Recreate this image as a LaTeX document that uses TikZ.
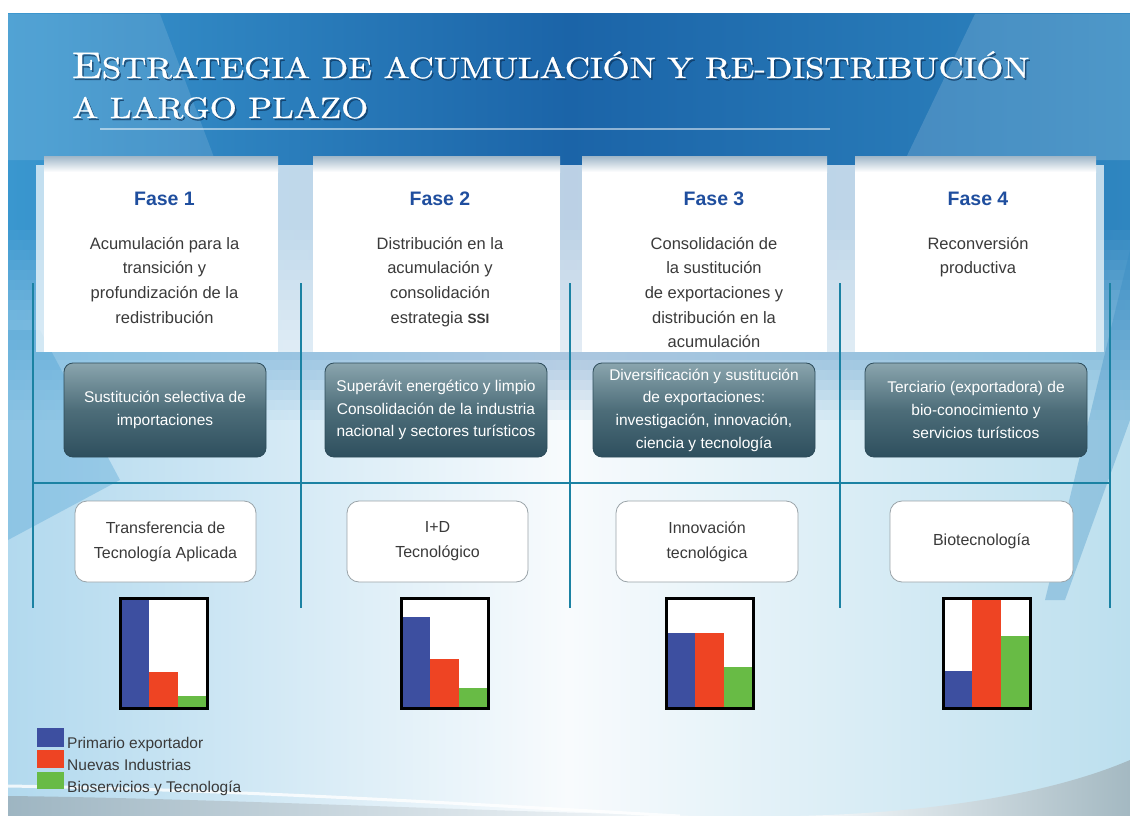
\documentclass[tikz,border=0pt]{standalone}
\usepackage{fontspec}
\usepackage{graphicx}
\newfontfamily\arialfont{Liberation Sans}
\newfontfamily\titlefont{lmroman10-regular.otf}[FakeBold=0.8]
\definecolor{azultitulo}{HTML}{1F4E9E}
\definecolor{gristexto}{HTML}{3A3A3A}
\definecolor{linea}{HTML}{1B82A3}
\definecolor{oscuroarriba}{HTML}{8AA5AE}
\definecolor{oscuromedio}{HTML}{4D6D79}
\definecolor{oscuroabajo}{HTML}{2E4F5E}
\definecolor{bordeoscuro}{HTML}{2D4C5A}
\definecolor{bordeclaro}{HTML}{9AA3A8}
\definecolor{barazul}{HTML}{3D4FA0}
\definecolor{barrojo}{HTML}{EE4423}
\definecolor{barverde}{HTML}{68BB45}
\definecolor{fondoizq}{HTML}{B2D9EE}
\definecolor{fondocentro}{HTML}{F8FBFD}
\definecolor{fondoder}{HTML}{BCDFEE}
\definecolor{cieloizq}{HTML}{3A97CF}
\definecolor{cielocentro}{HTML}{1B64A8}
\definecolor{cieloder}{HTML}{2F86C0}
\definecolor{panelborde}{HTML}{9FB6C8}
\definecolor{sombra}{HTML}{0B2F55}

\begin{document}
\begin{tikzpicture}[x=1pt,y=-1pt,
  columna/.style={draw=linea,line width=2pt},
  titulo/.style={font=\titlefont\fontsize{29.5}{30}\selectfont,text=white,anchor=base west,inner sep=0pt},
  fase/.style={font=\arialfont\bfseries\fontsize{19.5}{20}\selectfont,text=azultitulo,anchor=base,inner sep=0pt},
  cuerpo/.style={font=\arialfont\fontsize{16.5}{24.6}\selectfont,text=gristexto,align=center,anchor=north,inner sep=0pt},
  oscura/.style={draw=bordeoscuro,line width=.8pt,rounded corners=9pt,top color=oscuroarriba,bottom color=oscuroabajo,middle color=oscuromedio,minimum height=94pt,minimum width=#1,align=center,text=white,font=\arialfont\fontsize{15.5}{22.7}\selectfont},
  clara/.style={draw=bordeclaro,line width=.8pt,rounded corners=12pt,fill=white,minimum height=81pt,minimum width=#1,align=center,text=gristexto,font=\arialfont\fontsize{16}{25}\selectfont},
  marco/.style={draw=black,line width=3pt},
  leyenda/.style={font=\arialfont\fontsize{15.5}{16}\selectfont,text=gristexto,anchor=base west,inner sep=0pt}]
\useasboundingbox (0,0) rectangle (1130,816);
\fill[white] (0,0) rectangle (1130,816);
\shade[left color=cieloizq,right color=cieloder,middle color=cielocentro] (8,14) rectangle (1130,221);
\foreach \t in {0,5,...,95}
  \shade[left color=fondoizq!\t!cieloizq,right color=fondoder!\t!cieloder,middle color=fondocentro!\t!cielocentro] (8,{220+2*\t}) rectangle (1130,{231+2*\t});
\shade[left color=fondoizq,right color=fondoder,middle color=fondocentro] (8,420) rectangle (1130,816);
\fill[white,opacity=.12] (8,14) -- (160,14) -- (215,160) -- (8,160) -- cycle;
\fill[white,opacity=.15] (975,14) -- (1130,14) -- (1130,160) -- (905,160) -- cycle;
\fill[cieloizq,opacity=.3] (8,330) -- (40,330) -- (120,480) -- (8,540) -- cycle;
\fill[cieloder,opacity=.3] (1130,250) -- (1130,420) -- (1065,600) -- (1045,600) -- cycle;
\draw[white,opacity=.5,line width=1.3pt] (100,129) -- (830,129);
\node[titulo,text=sombra,opacity=.6] (sombra1) at (73.5,80) {\scalebox{1.18}[1]{{\fontsize{37}{37}\selectfont E}STRATEGIA DE ACUMULACIÓN Y RE-DISTRIBUCIÓN}};
\node[titulo,text=sombra,opacity=.6] (sombra2) at (73.5,120) {\scalebox{1.18}[1]{A LARGO PLAZO}};
\node[titulo] (titulo1) at (72,78) {\scalebox{1.18}[1]{{\fontsize{37}{37}\selectfont E}STRATEGIA DE ACUMULACIÓN Y RE-DISTRIBUCIÓN}};
\node[titulo] (titulo2) at (72,118) {\scalebox{1.18}[1]{A LARGO PLAZO}};
\fill[white,opacity=.7] (36,165) rectangle (1104,352);
\shade[top color=panelborde,bottom color=white] (44,156) rectangle (278,172);
\fill[white] (44,172) rectangle (278,352);
\shade[top color=panelborde,bottom color=white] (313,156) rectangle (560,172);
\fill[white] (313,172) rectangle (560,352);
\shade[top color=panelborde,bottom color=white] (582,156) rectangle (827,172);
\fill[white] (582,172) rectangle (827,352);
\shade[top color=panelborde,bottom color=white] (855,156) rectangle (1096,172);
\fill[white] (855,172) rectangle (1096,352);
\shade[left color=fondoizq!60!gray,right color=fondocentro] (8,796) .. controls (200,798) and (500,812) .. (700,816) -- (8,816) -- cycle;
\draw[white,line width=3pt,opacity=.8] (8,786) .. controls (250,790) and (500,806) .. (680,816);
\shade[left color=fondocentro,right color=fondoder!60!gray] (800,816) .. controls (950,812) and (1060,790) .. (1130,760) -- (1130,816) -- cycle;
\draw[columna] (33,283) -- (33,608);
\draw[columna] (301,283) -- (301,608);
\draw[columna] (570,283) -- (570,608);
\draw[columna] (840,283) -- (840,608);
\draw[columna] (1110,283) -- (1110,608);
\draw[columna] (33,483) -- (1110,483);
\node[fase] (fase1) at (164.5,205) {Fase 1};
\node[fase] (fase2) at (440,205) {Fase 2};
\node[fase] (fase3) at (714,205) {Fase 3};
\node[fase] (fase4) at (978,205) {Fase 4};
\node[cuerpo] (texto1) at (164.5,237) {Acumulación para la\\transición y\\profundización de la\\redistribución};
\node[cuerpo] (texto2) at (440,237) {Distribución en la\\acumulación y\\consolidación\\estrategia {\bfseries\fontsize{13.5}{14}\selectfont SSI}};
\node[cuerpo] (texto3) at (714,237) {Consolidación de\\la sustitución\\de exportaciones y\\distribución en la\\acumulación};
\node[cuerpo] (texto4) at (978,237) {Reconversión\\productiva};
\node[oscura=202pt] (sector1) at (165,410) {Sustitución selectiva de\\importaciones};
\node[oscura=222pt] (sector2) at (436,410) {Superávit energético y limpio\\Consolidación de la industria\\nacional y sectores turísticos};
\node[oscura=222pt] (sector3) at (704,410) {Diversificación y sustitución\\de exportaciones:\\investigación, innovación,\\ciencia y tecnología};
\node[oscura=222pt] (sector4) at (976,410) {Terciario (exportadora) de\\bio-conocimiento y\\servicios turísticos};
\node[clara=181pt] (tecno1) at (165.5,541.5) {Transferencia de\\Tecnología Aplicada};
\node[clara=181pt] (tecno2) at (437.5,541.5) {I+D\\Tecnológico};
\node[clara=182pt] (tecno3) at (707,541.5) {Innovación\\tecnológica};
\node[clara=183pt] (tecno4) at (981.5,541.5) {Biotecnología};
\fill[white] (120,598) rectangle (207,708);
\fill[barazul] (120,598) rectangle (149,708);
\fill[barrojo] (149,672) rectangle (178,708);
\fill[barverde] (178,696) rectangle (207,708);
\draw[marco] (120,598) rectangle (207,708);
\fill[white] (401,598) rectangle (488,708);
\fill[barazul] (401,617) rectangle (430,708);
\fill[barrojo] (430,659) rectangle (459,708);
\fill[barverde] (459,688) rectangle (488,708);
\draw[marco] (401,598) rectangle (488,708);
\fill[white] (666,598) rectangle (753,708);
\fill[barazul] (666,633) rectangle (695,708);
\fill[barrojo] (695,633) rectangle (724,708);
\fill[barverde] (724,667) rectangle (753,708);
\draw[marco] (666,598) rectangle (753,708);
\fill[white] (943,598) rectangle (1030,708);
\fill[barazul] (943,671) rectangle (972,708);
\fill[barrojo] (972,598) rectangle (1001,708);
\fill[barverde] (1001,636) rectangle (1030,708);
\draw[marco] (943,598) rectangle (1030,708);
\fill[barazul] (37,728) rectangle (64,747);
\fill[barrojo] (37,750) rectangle (64,768);
\fill[barverde] (37,772) rectangle (64,789);
\node[leyenda] (primario) at (67,748) {Primario exportador};
\node[leyenda] (industrias) at (67,770) {Nuevas Industrias};
\node[leyenda] (bioservicios) at (67,792) {Bioservicios y Tecnología};
\end{tikzpicture}
\end{document}
